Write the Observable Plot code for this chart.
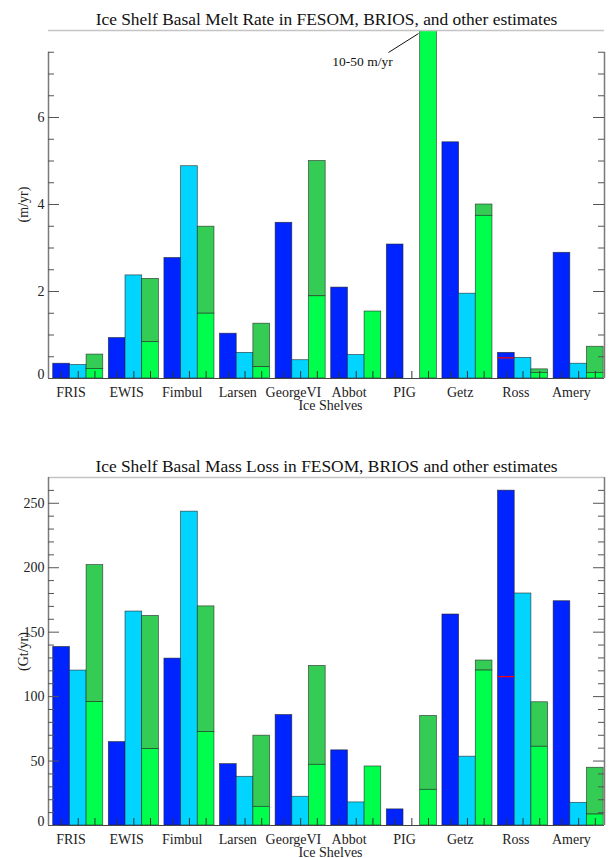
<!DOCTYPE html>
<html>
<head>
<meta charset="utf-8">
<script src="https://cdn.jsdelivr.net/npm/d3@7"></script>
<script src="https://cdn.jsdelivr.net/npm/@observablehq/plot@0.6"></script>
<style>
  html, body { margin: 0; padding: 0; background: #fff; }
  svg { display: block; }
  svg text { font-family: "Liberation Serif", "DejaVu Serif", "Times New Roman", serif !important; }
</style>
</head>
<body>
<div id="chart"></div>
<script>
// ---------- data ----------
const shelves = ["FRIS", "EWIS", "Fimbul", "Larsen", "GeorgeVI", "Abbot", "PIG", "Getz", "Ross", "Amery"];

// basal melt rate (m/yr)
const meltFesom   = [0.34, 0.93, 2.77, 1.03, 3.58, 2.09, 3.08, 5.43, 0.59, 2.89];
const meltBrios   = [0.31, 2.37, 4.88, 0.59, 0.42, 0.54, null, 1.95, 0.475, 0.34];
const meltObsLow  = [0.22, 0.835, 1.49, 0.26, 1.89, 1.54, 10, 3.74, 0.13, 0.13];
const meltObsHigh = [0.55, 2.29, 3.49, 1.26, 5.00, 1.54, 50, 4.00, 0.21, 0.73];
const meltRossRef = 0.475;
const meltTicks   = [0, 2, 4, 6];

// basal mass loss (Gt/yr)
const massFesom   = [138.5, 64.7, 129.5, 47.6, 85.7, 58.3, 12.5, 163.7, 259.8, 174];
const massBrios   = [120.2, 166, 243.5, 37.8, 22.3, 17.9, null, 53.4, 180, 17.6];
const massObsLow  = [95.8, 59.3, 72.5, 14.5, 47.1, 45.8, 27.7, 120.2, 61.1, 8.5];
const massObsHigh = [202, 162.6, 170, 69.7, 123.8, 45.8, 85, 128, 95.6, 44.8];
const massRossRef = 115.5;
const massTicks   = [0, 50, 100, 150, 200, 250];

// ---------- style ----------
const BLUE = "#0024ff", CYAN = "#00d4ff", GREEN = "#00ff4c", DKGREEN = "#35cc55";
const FONT = "Liberation Serif, DejaVu Serif, Times New Roman, serif";
const X0 = -0.085, X1 = 9.915;

function chart(cfg) {
  const rows = shelves.map((name, i) => ({
    name, i,
    fesom: cfg.fesom[i], brios: cfg.brios[i], low: cfg.low[i], high: cfg.high[i]
  }));
  const centers = rows.flatMap(d => [d.i + 0.15, d.i + 0.45, d.i + 0.75]);
  const edge = {stroke: "#222", strokeWidth: 0.7, strokeOpacity: 0.8, clip: true};
  const txt = {fontFamily: FONT, fill: "#222"};
  const marks = [
    // bars
    Plot.rect(rows.filter(d => d.fesom != null), {x1: d => d.i, x2: d => d.i + 0.3, y1: 0, y2: "fesom", fill: BLUE, ...edge}),
    Plot.rect(rows.filter(d => d.brios != null), {x1: d => d.i + 0.3, x2: d => d.i + 0.6, y1: 0, y2: "brios", fill: CYAN, ...edge}),
    Plot.rect(rows.filter(d => d.high > d.low), {x1: d => d.i + 0.6, x2: d => d.i + 0.9, y1: "low", y2: "high", fill: DKGREEN, ...edge}),
    Plot.rect(rows, {x1: d => d.i + 0.6, x2: d => d.i + 0.9, y1: 0, y2: "low", fill: GREEN, ...edge}),
    // Ross reference line
    Plot.ruleY([cfg.rossRef], {x1: 8, x2: 8.3, stroke: "#ff0000", strokeWidth: 1.2}),
    // frame
    Plot.ruleY([cfg.ymax], {x1: X0, x2: X1, stroke: "#c4c4c4", strokeWidth: 1.6}),
    Plot.ruleY([0], {x1: X0, x2: X1, stroke: "#444", strokeWidth: 1}),
    Plot.ruleX([X0, X1], {y1: 0, y2: cfg.axisTop, stroke: "#7a7a7a", strokeWidth: 1.5}),
    // x ticks at bar centres
    Plot.ruleX(centers, {x: d => d, y1: 0, y2: 0, insetTop: -7, stroke: "#333", strokeWidth: 1}),
    // y ticks (left and right, inward)
    Plot.ruleY(cfg.majors, {y: d => d, x1: X0, x2: X0, insetRight: -11, stroke: "#555", strokeWidth: 1}),
    Plot.ruleY(cfg.minors, {y: d => d, x1: X0, x2: X0, insetRight: -6, stroke: "#555", strokeWidth: 1}),
    Plot.ruleY(cfg.majors, {y: d => d, x1: X1, x2: X1, insetLeft: -11, stroke: "#555", strokeWidth: 1}),
    Plot.ruleY(cfg.minors, {y: d => d, x1: X1, x2: X1, insetLeft: -6, stroke: "#555", strokeWidth: 1}),
    // y tick labels (the zero label sits slightly above its tick)
    Plot.text(cfg.majors.filter(v => v !== 0), {x: X0, y: d => d, text: d => String(d), textAnchor: "end", dx: -4, fontSize: 14, ...txt}),
    Plot.text(cfg.majors.filter(v => v === 0), {x: X0, y: d => d, text: d => String(d), textAnchor: "end", dx: -4, dy: -4, fontSize: 14, ...txt}),
    // x labels
    Plot.text(rows, {x: d => d.i + 0.32, text: "name", frameAnchor: "bottom", dy: 18, lineAnchor: "bottom", fontSize: 14, ...txt}),
    Plot.text(["Ice Shelves"], {text: d => d, frameAnchor: "bottom", dy: 31, dx: 4, lineAnchor: "bottom", fontSize: 14, ...txt}),
    // y label
    Plot.text([cfg.ylabel], {text: d => d, frameAnchor: "left", textAnchor: "middle", rotate: -90, dx: -25, fontSize: 14, ...txt}),
    // title
    Plot.text([cfg.title], {text: d => d, frameAnchor: "top", dy: -6, lineAnchor: "bottom", fontSize: 17.4, fontFamily: FONT, fill: "#111"})
  ];
  if (cfg.annotation) {
    const a = cfg.annotation;
    marks.push(
      Plot.text([a.text], {text: d => d, x: a.tx, y: a.ty, lineAnchor: "bottom", fontSize: 13.5, fontFamily: FONT, fill: "#111"}),
      Plot.link([a], {x1: "x1", y1: "y1", x2: "x2", y2: "y2", stroke: "#111", strokeWidth: 1})
    );
  }
  return Plot.plot({
    width: 610, height: cfg.height,
    marginLeft: 48, marginRight: 6, marginTop: cfg.marginTop, marginBottom: cfg.marginBottom,
    x: {domain: [X0, X1], axis: null},
    y: {domain: [0, cfg.ymax], axis: null},
    style: "font-family: 'Liberation Serif', 'DejaVu Serif', serif; background: #fff; overflow: visible;",
    marks
  });
}

const meltMinors = d3.range(0, 7.5001, 0.5).filter(v => !meltTicks.includes(v));
const massMinors = d3.range(0, 260.001, 10).filter(v => !massTicks.includes(v));

const meltChart = chart({
  fesom: meltFesom, brios: meltBrios, low: meltObsLow, high: meltObsHigh, rossRef: meltRossRef,
  ymax: 8, axisTop: 7.5, majors: meltTicks, minors: meltMinors,
  title: "Ice Shelf Basal Melt Rate in FESOM, BRIOS, and other estimates",
  ylabel: "(m/yr)", height: 420, marginTop: 30, marginBottom: 42,
  annotation: {text: "10-50 m/yr", tx: 5.563, ty: 7.195, x1: 6.03, y1: 7.494, x2: 6.57, y2: 7.93}
});
const massChart = chart({
  fesom: massFesom, brios: massBrios, low: massObsLow, high: massObsHigh, rossRef: massRossRef,
  ymax: 270, axisTop: 270, majors: massTicks, minors: massMinors,
  title: "Ice Shelf Basal Mass Loss in FESOM, BRIOS and other estimates",
  ylabel: "(Gt/yr)", height: 438, marginTop: 57, marginBottom: 33
});
document.getElementById("chart").append(meltChart, massChart);
</script>
</body>
</html>
